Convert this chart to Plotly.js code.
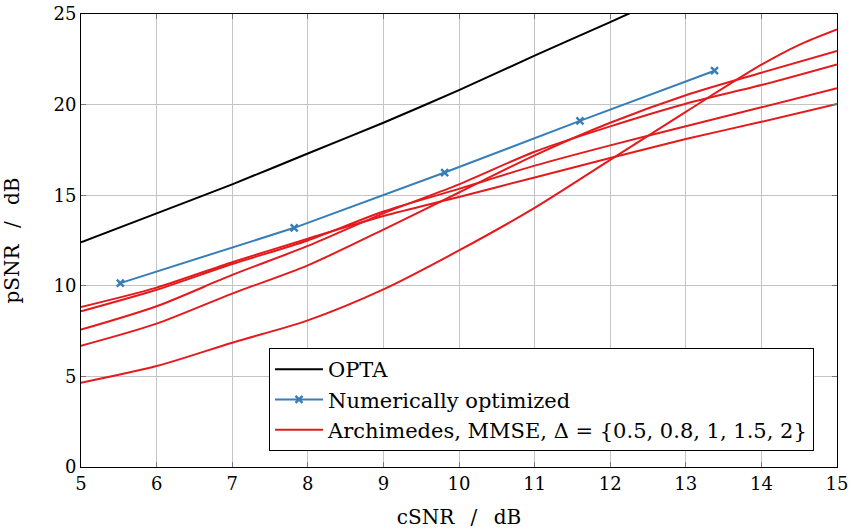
<!DOCTYPE html>
<html>
<head>
<meta charset="utf-8">
<script src="https://cdn.plot.ly/plotly-3.0.1.min.js"></script>
<style>html,body{margin:0;padding:0;background:#fff;}#chart{width:854px;height:531px;}</style>
</head>
<body>
<div id="chart"></div>
<script>
// ---- data ----
const optaX = [5, 6, 7, 8, 9, 10, 11, 12, 12.5];
const optaY = [12.4, 14.0, 15.6, 17.3, 19.0, 20.8, 22.7, 24.55, 25.5];

const numX = [5.52, 7.82, 9.81, 11.6, 13.38];
const numY = [10.15, 13.2, 16.25, 19.1, 21.87];

const archX = [5, 6, 7, 8, 9, 10, 11, 12, 13, 14, 15];
const archD05 = [8.83, 9.9, 11.3, 12.6, 13.85, 14.9, 15.98, 17.05, 18.1, 19.05, 20.03];
const archD08 = [8.59, 9.78, 11.2, 12.5, 14.1, 15.35, 16.63, 17.75, 18.81, 19.85, 20.9];
const archD10 = [7.58, 8.87, 10.6, 12.2, 14.0, 15.6, 17.4, 18.8, 20.05, 21.08, 22.22];
const archD15 = [6.69, 7.91, 9.57, 11.13, 13.1, 15.15, 17.2, 19.0, 20.52, 21.76, 22.96];
const archX20 = [5, 6, 7, 8, 9, 10, 11, 12, 13, 14, 14.5, 15];
const archD20 = [4.65, 5.57, 6.86, 8.09, 9.8, 11.95, 14.3, 16.95, 19.6, 22.2, 23.3, 24.15];

const xTicks = [5, 6, 7, 8, 9, 10, 11, 12, 13, 14, 15];
const yTicks = [0, 5, 10, 15, 20, 25];

const names = {
  opta: 'OPTA',
  num: 'Numerically optimized',
  arch: 'Archimedes, MMSE, Δ = {0.5, 0.8, 1, 1.5, 2}'
};
const xTitle = 'cSNR\u2002\u00a0/\u2002\u00a0dB';
const yTitle = 'pSNR\u2002\u00a0/\u2002\u00a0dB';

// ---- styling ----
const RED = '#e41a1c', BLUE = '#377eb8';
const FONT = 'DejaVu Serif, serif';

const archSeries = [
  {x: archX, y: archD05},
  {x: archX, y: archD08},
  {x: archX, y: archD10},
  {x: archX, y: archD15},
  {x: archX20, y: archD20}
];

const traces = [
  {x: optaX, y: optaY, mode: 'lines', name: names.opta, legendgroup: 'g1',
   line: {color: '#000', width: 2, shape: 'spline', smoothing: 0.8}},
  {x: numX, y: numY, mode: 'lines+markers', name: names.num, legendgroup: 'g2',
   line: {color: BLUE, width: 2},
   marker: {symbol: 'x-thin', size: 7, color: BLUE, line: {color: BLUE, width: 2.4}}}
];
archSeries.forEach((s, i) => {
  traces.push({x: s.x, y: s.y, mode: 'lines', name: names.arch, legendgroup: 'g3',
    showlegend: i === 0,
    line: {color: RED, width: 2, shape: 'spline', smoothing: 0.8}});
});

const axisCommon = {
  showgrid: true, gridcolor: '#c4c4c4', gridwidth: 1,
  showline: true, linecolor: '#000', linewidth: 1, mirror: 'ticks',
  ticks: 'inside', ticklen: 5, tickcolor: '#777', tickwidth: 1,
  zeroline: false,
  tickfont: {family: FONT, size: 18, color: '#000'}
};

const layout = {
  width: 854, height: 531,
  margin: {l: 81, r: 17, t: 14, b: 64},
  paper_bgcolor: '#fff', plot_bgcolor: '#fff',
  font: {family: FONT, size: 20, color: '#000'},
  xaxis: Object.assign({}, axisCommon, {
    range: [5, 15], tickvals: xTicks, ticktext: xTicks.map(String),
    title: {text: xTitle, font: {family: FONT, size: 20}, standoff: 17}
  }),
  yaxis: Object.assign({}, axisCommon, {
    range: [0, 25], tickvals: yTicks, ticktext: yTicks.map(String),
    title: {text: yTitle, font: {family: FONT, size: 20}, standoff: 28}
  }),
  legend: {
    x: 0.2487, y: 0.2627, xanchor: 'left', yanchor: 'top',
    bgcolor: '#fff', bordercolor: '#000', borderwidth: 1,
    font: {family: FONT, size: 21, color: '#000'},
    tracegroupgap: 0, itemwidth: 48
  },
  showlegend: true
};

Plotly.newPlot('chart', traces, layout, {staticPlot: true, displayModeBar: false});
</script>
</body>
</html>
